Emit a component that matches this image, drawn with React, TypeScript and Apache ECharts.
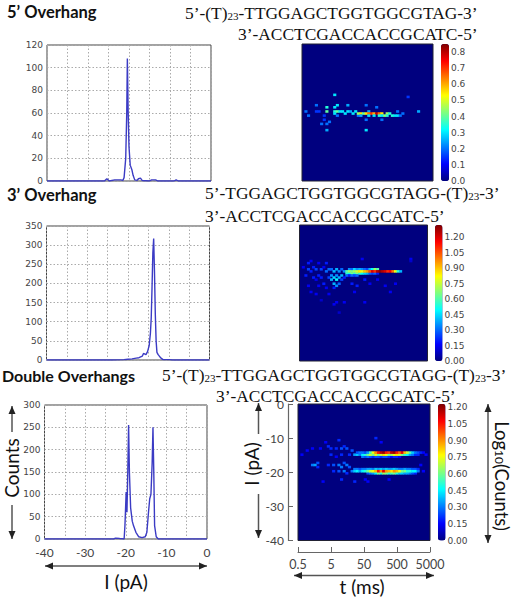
import React, { useEffect, useRef } from "react";
import * as echarts from "echarts";

// ---------- 1D histograms: [current (pA), counts] ----------
const counts5: number[][] = [[-40,0],[-26,0],[-25.4,2],[-24.8,0],[-23.5,1],[-22,1],[-21.5,0.5],[-21.2,3],[-20.8,20],[-20.55,60],[-20.4,108],[-20.2,60],[-20,30],[-19.7,14],[-19.3,10],[-19,5],[-18.6,1],[-18,0.5],[-17.7,2],[-17.2,2.5],[-16.8,0.5],[-15,0],[-14.5,1],[-13.5,1],[-13,0],[-9,0],[-8.5,1],[-8,0],[0,0]];
const counts3: number[][] = [[-40,0],[-24,0],[-21,1],[-20,2],[-19,3],[-18,5],[-17.3,6],[-16.5,10],[-16.2,17],[-15.6,14],[-15.2,22],[-14.8,38],[-14.5,70],[-14.3,110],[-14.1,190],[-13.9,280],[-13.7,317],[-13.5,230],[-13.3,120],[-13.1,50],[-12.9,20],[-12.6,14],[-12.3,10],[-11.9,5],[-11.4,1],[-10,1],[-9,0],[0,0]];
const countsDouble: number[][] = [[-40,0],[-23,0],[-22.5,2],[-21.5,1],[-20.4,0],[-20.2,30],[-20,80],[-19.9,105],[-19.8,60],[-19.75,90],[-19.7,60],[-19.5,150],[-19.3,255],[-19.1,150],[-18.8,70],[-18.4,40],[-18.1,30],[-17.5,15],[-16.8,5],[-16,3],[-15.2,5],[-14.8,15],[-14.4,60],[-14.1,90],[-13.8,100],[-13.5,170],[-13.3,250],[-13.1,150],[-12.9,30],[-12.5,5],[-12,0],[0,0]];

// ---------- 2D event density cells: [col 0-49, row from top 0-65, log10 counts] ----------
const run = (row: number, start: number, vals: number[]) => vals.map((v, i) => [start + i, row, v]);

const heat5Scatter = [[12,24,.3],[17,29,.25],[13,29,.3],[24,29,.2],[40,25,.15],[44,32,.25],[1,32,.2],[5,29,.2],[5,32,.15],[6,32,.15],[2,34,.2],[9,30,.35],[9,32,.4],[8,34,.15],[8,36,.15],[10,37,.2],[7,38,.2],[9,38,.2],[9,41,.25],[24,41,.3],[12,30,.3],[12,32,.35],[12,33,.3],[13,32,.4],[14,32,.3],[13,34,.2],[25,32,.25],[28,30,.2],[21,34,.2],[24,36,.2],[30,36,.2],[36,32,.2],[38,33,.2]];
const heat5Streak = [[15,32,.3],[16,33,.3],[17,32,.3],[18,32,.25],[19,33,.3],[20,32,.3],[21,33,.45],[22,33,.55],[23,33,.4],[24,33,.55],[25,33,.65],[26,33,.7],[27,33,.6],[28,33,.8],[29,33,.65],[30,33,.55],[31,34,.45],[30,34,.3],[32,33,.45],[33,33,.35],[34,34,.35],[35,34,.3],[36,34,.3],[37,34,.2],[22,34,.25],[25,34,.3],[27,34,.3],[29,34,.35],[32,34,.35]];

const heat3Row21 = run(21, 19, [.35,.3,.45,.35,.4,.35,.3,.25,.4,.5,.7,.6]);
const heat3Row22 = run(22, 18, [.6,.7,.65,.7,.75,.85,.8,.9,.95,1.05,1.2,1.1,1.25,1.3,1.25,1.2,1.1,1.15,1.0,.8,.55,.4]);
const heat3Row23 = run(23, 18, [.55,.5,.65,.55,.65,.55,.5,.45,.4,.3,.25,.3,.2]);
const heat3Row24 = run(24, 18, [.3,.2,.3,.25,.3]);
const heat3Scatter = [[1,20,.15],[2,24,.2],[3,18,.2],[3,21,.25],[4,17,.15],[4,22,.2],[5,20,.2],[5,25,.2],[6,21,.25],[6,26,.15],[7,18,.15],[7,24,.2],[7,29,.15],[8,21,.25],[8,25,.2],[9,20,.15],[9,28,.2],[10,22,.3],[10,18,.2],[10,30,.15],[11,21,.3],[11,25,.25],[11,33,.15],[12,21,.3],[12,24,.35],[12,26,.4],[13,22,.4],[13,25,.45],[13,28,.4],[13,30,.2],[14,21,.4],[14,24,.35],[14,26,.5],[14,29,.35],[15,22,.35],[15,25,.4],[15,28,.3],[16,21,.3],[16,24,.4],[16,26,.25],[17,22,.35],[17,25,.2],[3,29,.15],[4,32,.15],[6,33,.15],[8,36,.1],[13,38,.15],[17,37,.15],[14,37,.15],[25,37,.15],[15,42,.1],[24,16,.15],[43,16,.15],[43,17,.1],[33,29,.15],[35,32,.15],[37,28,.15],[20,28,.2],[22,29,.2],[25,26,.2],[27,28,.15],[21,32,.15],[30,26,.15]];

const heatDTop23 = run(23, 22, [.25,.3,.3,.25,.35,.55,.75,.9,1.05,1.15,1.2,1.05,1.0,1.15,1.2,1.05,.95,1.1,.85,.7,.55,.4,.3,.25,.2,.15]);
const heatDTop24 = run(24, 21, [.35,.4,.3,.45,.5,.6,.7,.6,.75,.6,.7,.8,.75,.6,.65,.75,.8,.7,.6,.5,.45,.35,.3,.2,.2]);
const heatDTop25 = run(25, 24, [.3,.25,.3,.25,.2,.25,.25,.2,.25,.25,.2,.15,.2,.2,.15]);
const heatDBot31 = run(31, 21, [.3,.3,.25,.3,.3,.35,.35,.3,.4,.35,.4,.35,.4,.35,.35,.4,.35,.3,.3,.35,.3,.3,.25,.25,.2]);
const heatDBot32 = run(32, 21, [.4,.45,.35,.45,.5,.6,.7,.75,.85,1.05,.9,1.1,.9,.85,.8,.9,.85,.75,.6,.6,.5,.5,.45,.45,.3]);
const heatDBot33 = run(33, 26, [.25,.3,.35,.45,.6,.5,.65,.6,.5,.55,.6,.5,.4,.4,.35,.35,.3,.25,.2]);
const heatDScatter = [[1,24,.15],[3,22,.15],[5,21,.15],[5,29,.3],[6,29,.35],[7,28,.25],[7,30,.2],[8,21,.15],[9,37,.15],[10,18,.15],[11,20,.2],[11,29,.2],[12,24,.2],[12,21,.2],[13,29,.25],[13,32,.2],[14,21,.2],[14,25,.15],[15,17,.2],[15,29,.3],[15,32,.25],[16,21,.25],[16,24,.2],[16,30,.3],[16,36,.2],[17,20,.2],[17,28,.25],[17,32,.3],[18,21,.25],[18,29,.3],[18,33,.2],[19,24,.2],[19,30,.25],[20,22,.25],[20,32,.3],[21,37,.2],[26,37,.15],[29,16,.2],[31,18,.15],[48,24,.15],[46,29,.15],[47,32,.15],[25,36,.15],[34,36,.15]];

// ---------- axis and colour-bar tick values ----------
const timeTicks = ["0.5", "5", "50", "500", "5000"];
const colLabels = Array.from({ length: 50 }, (_, i) => String(i));
const rowLabels = Array.from({ length: 66 }, (_, i) => String(i));
const jet = ["#00007f","#0000ff","#007fff","#00ffff","#7fff7f","#ffff00","#ff7f00","#ff0000","#7f0000"];

const LATO = "Lato, sans-serif";
const SERIF = "'Liberation Serif', serif";
const VERA = "'DejaVu Sans', sans-serif";
const BLUE = "#3b3bc4";
const DOT = "#aaa";

const lineGrids = [
  { left: 47, top: 45, width: 164, height: 136, max: 120, interval: 20, data: counts5 },
  { left: 46.5, top: 226, width: 163, height: 134, max: 350, interval: 50, data: counts3 },
  { left: 44.5, top: 405, width: 162.5, height: 134, max: 300, interval: 50, data: countsDouble },
];
const heatGrids = [
  { left: 302, top: 44, width: 131, height: 137, max: 0.85, data: [...heat5Scatter, ...heat5Streak] },
  { left: 299.5, top: 225, width: 128, height: 136, max: 1.32, data: [...heat3Scatter, ...heat3Row21, ...heat3Row23, ...heat3Row24, ...heat3Row22] },
  { left: 298, top: 404, width: 132, height: 136.5, max: 1.23, data: [...heatDScatter, ...heatDTop25, ...heatDTop24, ...heatDTop23, ...heatDBot31, ...heatDBot33, ...heatDBot32] },
];
const barGrids = [
  { left: 441, top: 44, width: 8, height: 137, max: 0.85, interval: 0.1, digits: 1 },
  { left: 435, top: 225, width: 7.5, height: 136, max: 1.32, interval: 0.15, digits: 2 },
  { left: 438, top: 404, width: 7.5, height: 136.5, max: 1.23, interval: 0.15, digits: 2 },
];

const text = (s: string, x: number, y: number, font: string, extra: any = {}) => ({
  type: "text", x, y, silent: true, rotation: extra.rotation ?? 0,
  style: { text: s, font, fill: extra.fill ?? "#111", textAlign: extra.align ?? "left", textVerticalAlign: "middle", verticalAlign: "middle", align: extra.align ?? "left", rich: extra.rich },
});

const DNA = 17.4;
const dnaRich = {
  m: { font: `${DNA}px ${SERIF}`, fill: "#111", lineHeight: 14, verticalAlign: "middle" },
  s: { font: `11px ${SERIF}`, fill: "#111", lineHeight: 10, padding: [6, 0, 0, 0], verticalAlign: "middle" },
};
const dna = (s: string, x: number, y: number) => text(s, x, y, `${DNA}px ${SERIF}`, { rich: dnaRich });

const arrow = (x1: number, y1: number, x2: number, y2: number, heads: [boolean, boolean]) => {
  const a = Math.atan2(y2 - y1, x2 - x1);
  const head = (x: number, y: number, t: number) => ({
    type: "polygon", silent: true,
    shape: { points: [[x, y], [x - 8 * Math.cos(t) + 3.5 * Math.sin(t), y - 8 * Math.sin(t) - 3.5 * Math.cos(t)], [x - 8 * Math.cos(t) - 3.5 * Math.sin(t), y - 8 * Math.sin(t) + 3.5 * Math.cos(t)]] },
    style: { fill: "#222" },
  });
  const out: any[] = [{ type: "line", silent: true, shape: { x1, y1, x2, y2 }, style: { stroke: "#555", lineWidth: 1.5 } }];
  if (heads[0]) out.push(head(x1, y1, a + Math.PI));
  if (heads[1]) out.push(head(x2, y2, a));
  return out;
};

const graphics: any[] = [
  text("5\u2019 Overhang", 7, 12, `bold 16.5px ${LATO}`),
  text("3\u2019 Overhang", 7, 195, `bold 16.5px ${LATO}`),
  text("Double Overhangs", 2, 375, `bold 16px ${LATO}`),
  dna("{m|5\u2019-(T)}{s|23}{m|-TTGGAGCTGGTGGCGTAG-3\u2019}", 185, 13),
  dna("{m|3\u2019-ACCTCGACCACCGCATC-5\u2019}", 238, 34),
  dna("{m|5\u2019-TGGAGCTGGTGGCGTAGG-(T)}{s|23}{m|-3\u2019}", 205, 193),
  dna("{m|3\u2019-ACCTCGACCACCGCATC-5\u2019}", 205, 216),
  dna("{m|5\u2019-(T)}{s|23}{m|-TTGGAGCTGGTGGCGTAGG-(T)}{s|23}{m|-3\u2019}", 162, 375),
  dna("{m|3\u2019-ACCTCGACCACCGCATC-5\u2019}", 216, 395.5),
  text("Counts", 11, 468, `19px ${LATO}`, { rotation: Math.PI / 2, align: "center" }),
  text("I (pA)", 126, 581, `19px ${LATO}`, { align: "center" }),
  text("I (pA)", 251, 464, `19px ${LATO}`, { rotation: Math.PI / 2, align: "center" }),
  text("t (ms)", 362, 586, `19px ${LATO}`, { align: "center" }),
  text("{m|Log}{s|10}{m|(Counts)}", 502, 476, `18.5px ${LATO}`, {
    rotation: -Math.PI / 2, align: "center",
    rich: {
      m: { font: `18.5px ${LATO}`, fill: "#111", lineHeight: 16, verticalAlign: "middle" },
      s: { font: `12px ${LATO}`, fill: "#111", lineHeight: 10, padding: [5, 0, 0, 0], verticalAlign: "middle" },
    },
  }),
  ...arrow(12, 432, 12, 406, [false, true]),
  ...arrow(12, 505, 12, 539, [false, true]),
  ...arrow(45, 566, 207, 566, [true, true]),
  ...arrow(258.5, 434, 258.5, 403, [false, true]),
  ...arrow(258.5, 494, 258.5, 538, [false, true]),
  ...arrow(294, 575.5, 434, 575.5, [true, true]),
  ...arrow(488, 404, 488, 543, [true, true]),
];

function buildOption() {
  const grid: any[] = [];
  const xAxis: any[] = [];
  const yAxis: any[] = [];
  const series: any[] = [];
  const visualMap: any[] = [];

  lineGrids.forEach((g, i) => {
    grid.push({ left: g.left, top: g.top, width: g.width, height: g.height, show: true, borderColor: "#444", borderWidth: 1, backgroundColor: "#fff" });
    xAxis.push({
      type: "value", gridIndex: i, min: -40, max: 0, interval: 5,
      axisLine: { show: false }, axisTick: { show: false },
      axisLabel: i === 2
        ? { show: true, fontFamily: LATO, fontSize: 12, color: "#444", margin: 7, formatter: (v: number) => (v % 10 === 0 ? String(v) : "") }
        : { show: false },
      splitLine: { show: true, lineStyle: { color: DOT, type: [1.5, 2], width: 1 } },
    });
    yAxis.push({
      type: "value", gridIndex: i, min: 0, max: g.max, interval: g.interval,
      axisLine: { show: false }, axisTick: { show: false },
      axisLabel: { fontFamily: VERA, fontSize: 9, color: "#444", margin: 4 },
      splitLine: { show: true, lineStyle: { color: DOT, type: [1.5, 2], width: 1 } },
    });
    series.push({
      type: "line", xAxisIndex: i, yAxisIndex: i, data: g.data, showSymbol: false, smooth: false,
      lineStyle: { color: BLUE, width: 1.4 }, itemStyle: { color: BLUE },
    });
  });

  heatGrids.forEach((g, i) => {
    const idx = 3 + i;
    grid.push({ left: g.left, top: g.top, width: g.width, height: g.height, show: true, backgroundColor: "#00007f", borderColor: "#223", borderWidth: 1 });
    xAxis.push({ type: "category", gridIndex: idx, data: colLabels, show: false });
    yAxis.push({ type: "category", gridIndex: idx, data: rowLabels, show: false, inverse: true });
    series.push({ type: "heatmap", xAxisIndex: idx, yAxisIndex: idx, data: g.data, itemStyle: { borderWidth: 0 } });
    visualMap.push({
      type: "continuous", seriesIndex: 3 + i, min: 0, max: g.max, calculable: false, hoverLink: false,
      left: barGrids[i].left, top: barGrids[i].top, itemWidth: barGrids[i].width, itemHeight: barGrids[i].height,
      padding: 0, inRange: { color: jet }, outOfRange: { color: "#00007f" }, z: 3,
    });
  });

  barGrids.forEach((g, i) => {
    const idx = 6 + i;
    grid.push({ left: g.left, top: g.top, width: g.width, height: g.height, show: false });
    xAxis.push({ type: "value", gridIndex: idx, show: false, min: 0, max: 1 });
    yAxis.push({
      type: "value", gridIndex: idx, position: "right", min: 0, max: g.max, interval: g.interval,
      axisLine: { show: false }, axisTick: { show: false }, splitLine: { show: false },
      axisLabel: { fontFamily: VERA, fontSize: 9, lineHeight: 9, color: "#444", margin: 2, showMaxLabel: false, formatter: (v: number) => v.toFixed(g.digits) },
    });
  });

  // the offset t and I axes beside the double-overhang map
  xAxis.push({
    type: "category", gridIndex: 5, position: "bottom", offset: 11.5, data: timeTicks, boundaryGap: false,
    axisLine: { show: true, lineStyle: { color: "#666", width: 1 } },
    axisTick: { show: true, inside: true, length: 5, alignWithLabel: true, lineStyle: { color: "#666" } },
    axisLabel: { fontFamily: LATO, fontSize: 12.5, color: "#444", margin: 6, interval: 0, hideOverlap: false },
    splitLine: { show: false },
  });
  yAxis.push({
    type: "value", gridIndex: 5, position: "left", offset: 10, min: -40, max: 0, interval: 10,
    axisLine: { show: true, lineStyle: { color: "#666", width: 1.2 } },
    axisTick: { show: true, inside: true, length: 5, lineStyle: { color: "#666" } },
    axisLabel: { fontFamily: LATO, fontSize: 12, lineHeight: 10, color: "#444", margin: 4, padding: [5, 0, 0, 0] },
    splitLine: { show: false },
  });

  return { animation: false, backgroundColor: "#fff", grid, xAxis, yAxis, series, visualMap, graphic: { elements: graphics } };
}

export default function App() {
  const ref = useRef<HTMLDivElement>(null);
  useEffect(() => {
    const chart = echarts.init(ref.current!, undefined, { renderer: "svg" });
    chart.setOption(buildOption() as any);
    return () => chart.dispose();
  }, []);
  return <div ref={ref} style={{ position: "absolute", left: 0, top: 0, width: 512, height: 599 }} />;
}
